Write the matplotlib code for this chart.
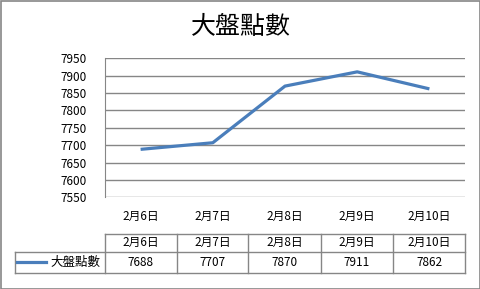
import matplotlib
matplotlib.use("Agg")
import matplotlib.pyplot as plt
from matplotlib.lines import Line2D
from matplotlib.patches import Rectangle

plt.rcParams['font.family'] = ['Noto Sans CJK TC', 'DejaVu Sans']

categories = ["2月6日", "2月7日", "2月8日", "2月9日", "2月10日"]
values = [7688, 7707, 7870, 7911, 7862]
series_name = "大盤點數"
yticks = [7550, 7600, 7650, 7700, 7750, 7800, 7850, 7900, 7950]
title = "大盤點數"

W, H = 481, 289
fig = plt.figure(figsize=(W / 100, H / 100), dpi=100)

def fx(px):
    return px / W

def fy(py):
    return 1 - py / H

fs = 8.5

# outer border
fig.patches.append(Rectangle((0.5 / W, 0.5 / H), 1 - 1.5 / W, 1 - 1.5 / H,
                             transform=fig.transFigure, fill=False,
                             edgecolor="#868686", linewidth=1.2))

left, right, top, bottom = 104.5, 465.5, 58.3, 197.3
ax = fig.add_axes([fx(left), fy(bottom), fx(right - left), (bottom - top) / H])
x = list(range(len(categories)))
ax.plot(x, values, color="#4A7EBB", linewidth=2.3, solid_capstyle="butt", zorder=3)
ax.set_xlim(-0.5, len(categories) - 0.5)
ax.set_ylim(yticks[0], yticks[-1])
ax.set_yticks(yticks)
ax.set_yticklabels([str(v) for v in yticks], fontsize=fs)
ax.yaxis.grid(True, color="#868686", linewidth=1)
ax.set_axisbelow(True)
for s in ["top", "right", "bottom"]:
    ax.spines[s].set_visible(False)
ax.spines["left"].set_color("#868686")
ax.tick_params(axis="y", length=0, pad=13)
ax.set_xticks(x)
ax.set_xticklabels(categories, fontsize=fs)
ax.tick_params(axis="x", length=0, pad=9)
ax.patch.set_alpha(0)

fig.text(0.5, fy(27), title, ha="center", va="center", fontsize=18)

# data table
col_edges = [104.5, 176.7, 248.5, 320.7, 393.3, 465.5]
row_top, row_mid, row_bot = 234.0, 251.7, 272.7
legend_left = 14.7
lc = "#868686"

def hline(y, x0, x1):
    fig.add_artist(Line2D([fx(x0), fx(x1)], [fy(y), fy(y)], color=lc, linewidth=1,
                          transform=fig.transFigure))

def vline(xp, y0, y1):
    fig.add_artist(Line2D([fx(xp), fx(xp)], [fy(y0), fy(y1)], color=lc, linewidth=1,
                          transform=fig.transFigure))

hline(row_top, col_edges[0], col_edges[-1])
hline(row_mid, legend_left, col_edges[-1])
hline(row_bot, legend_left, col_edges[-1])
for i, cx in enumerate(col_edges):
    vline(cx, row_top, row_bot)
vline(legend_left, row_mid, row_bot)

for i, (c, v) in enumerate(zip(categories, values)):
    cxm = (col_edges[i] + col_edges[i + 1]) / 2
    fig.text(fx(cxm), fy((row_top + row_mid) / 2), c, ha="center", va="center", fontsize=fs)
    fig.text(fx(cxm), fy((row_mid + row_bot) / 2), str(v), ha="center", va="center", fontsize=fs)

ly = (row_mid + row_bot) / 2
fig.add_artist(Line2D([fx(17), fx(46)], [fy(ly), fy(ly)], color="#4A7EBB", linewidth=2.3,
                      transform=fig.transFigure))
fig.text(fx(100), fy(ly), series_name, ha="right", va="center", fontsize=9)

fig.savefig("out.png", dpi=100)
